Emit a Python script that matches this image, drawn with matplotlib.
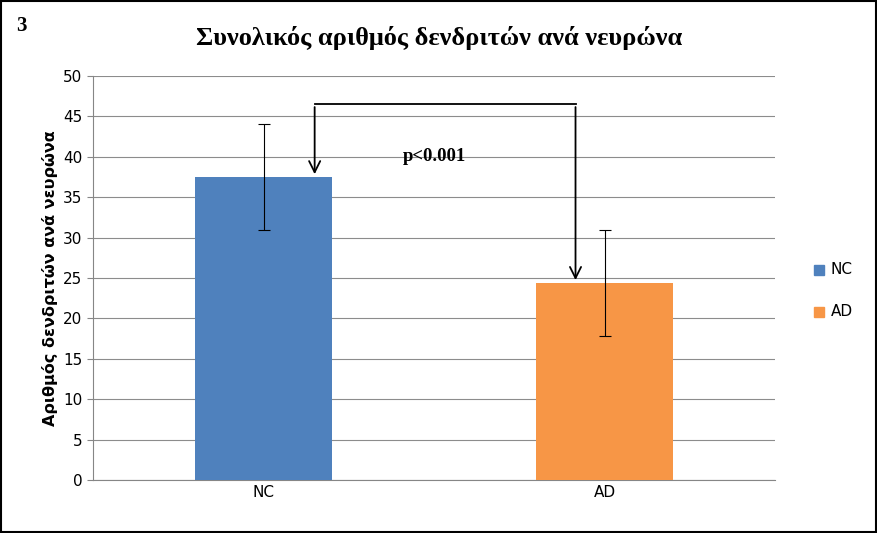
import matplotlib
matplotlib.use("Agg")
import matplotlib.pyplot as plt
from matplotlib.patches import Rectangle

categories = ["NC", "AD"]
values = [37.5, 24.4]
err_low = [31.0, 17.8]
err_high = [44.1, 31.0]
colors = ["#4f81bd", "#f79646"]
yticks = list(range(0, 51, 5))

fig = plt.figure(figsize=(8.78, 5.33), dpi=100)
ax = fig.add_axes([93/878, 1-480/533, 682/878, 404/533])
x = [0, 1]
ax.bar(x, values, width=0.4, color=colors, zorder=3)
yerr = [[v - l for v, l in zip(values, err_low)], [h - v for v, h in zip(values, err_high)]]
ax.errorbar(x, values, yerr=yerr, fmt="none", ecolor="black", elinewidth=0.8, capsize=4, capthick=0.8, zorder=4)
ax.set_xlim(-0.5, 1.5)
ax.set_ylim(0, 50)
ax.set_yticks(yticks)
ax.set_xticks(x)
ax.set_xticklabels(categories)
ax.yaxis.grid(True, color="#8c8c8c", linewidth=0.8, zorder=0)
for s in ["top", "right"]:
    ax.spines[s].set_visible(False)
ax.spines["left"].set_color("#868686")
ax.spines["bottom"].set_color("#868686")
ax.tick_params(axis="both", labelsize=11, colors="#868686", labelcolor="black", length=4)
ax.tick_params(axis="x", length=0)
ax.set_ylabel("Αριθμός δενδριτών ανά νευρώνα", fontsize=11.5, fontweight="bold")

# significance bracket
xl, xr = 0.15, 0.915
ytop = 46.5
ax.plot([xl, xr], [ytop, ytop], color="black", lw=1.3, zorder=5)
ax.annotate("", xy=(xl, values[0]), xytext=(xl, ytop),
            arrowprops=dict(arrowstyle="->", color="black", lw=1.3, mutation_scale=20), zorder=5)
ax.annotate("", xy=(xr, values[1]), xytext=(xr, ytop),
            arrowprops=dict(arrowstyle="->", color="black", lw=1.3, mutation_scale=20), zorder=5)
ax.text(0.5, 40, "p<0.001", fontsize=13.5, fontweight="bold", family="Liberation Serif", ha="center", va="center")

fig.text(0.5, 1-38/533, "Συνολικός αριθμός δενδριτών ανά νευρώνα", fontsize=19, fontweight="bold",
         family="Liberation Serif", ha="center", va="center")
fig.text(16/878, 1-26/533, "3", fontsize=15, fontweight="bold", family="Liberation Serif", ha="left", va="center")

for i, (c, col) in enumerate(zip(categories, colors)):
    yy = 1 - (270 + 42*i)/533
    fig.patches.append(Rectangle((814/878, yy-5/533), 10/878, 10/533, color=col, transform=fig.transFigure))
    fig.text(831/878, yy, c, fontsize=11, va="center", ha="left")

fig.patches.append(Rectangle((0.001, 0.001), 0.997, 0.997, fill=False, edgecolor="black", lw=1.5,
                             transform=fig.transFigure))
fig.savefig("out.png", dpi=100)
